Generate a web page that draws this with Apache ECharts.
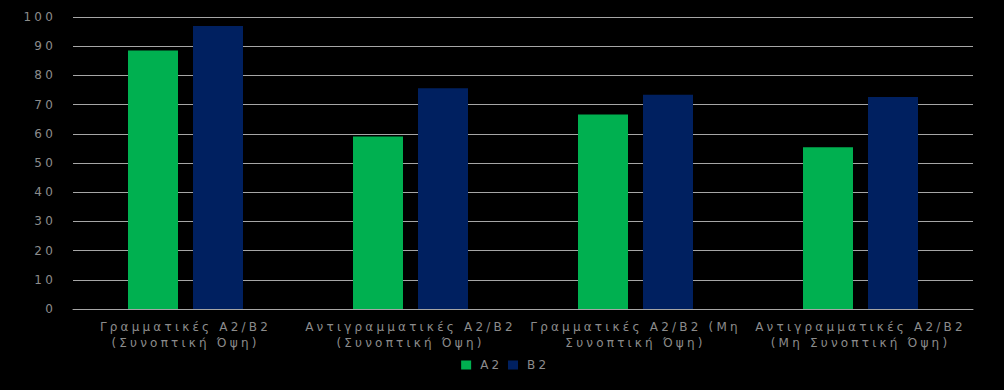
<!DOCTYPE html>
<html><head><meta charset="utf-8">
<script src="https://cdn.jsdelivr.net/npm/echarts@6/dist/echarts.min.js"></script>
<style>html,body{margin:0;padding:0;background:#000;}#c{width:1004px;height:390px;}
#c text{letter-spacing:3.2px;}</style>
</head><body><div id="c"></div>
<script>
const categories = [
  "Γραμματικές A2/B2\n(Συνοπτική Όψη)",
  "Αντιγραμματικές A2/B2\n(Συνοπτική Όψη)",
  "Γραμματικές A2/B2 (Μη\nΣυνοπτική Όψη)",
  "Αντιγραμματικές A2/B2\n(Μη Συνοπτική Όψη)"
];
const seriesNames = ["A2", "B2"];
const valuesA2 = [88.5, 59.1, 66.6, 55.4];
const valuesB2 = [96.9, 75.6, 73.4, 72.6];
const colors = ["#00b050", "#002060"];

const chart = echarts.init(document.getElementById('c'), null, {renderer: 'svg'});
chart.setOption({
  backgroundColor: '#000',
  animation: false,
  textStyle: {fontFamily: 'DejaVu Sans'},
  legend: {
    bottom: 14, left: 'center', itemWidth: 10, itemHeight: 9, itemGap: 12,
    icon: 'rect',
    textStyle: {color: '#8c8c8c', fontSize: 12, padding: [0, 0, 0, 4]},
    data: seriesNames
  },
  grid: {left: 73, right: 31, top: 17, bottom: 81},
  xAxis: {
    type: 'category', data: categories,
    axisLine: {lineStyle: {color: '#a6a6a6', width: 1}},
    axisTick: {show: false},
    axisLabel: {color: '#8c8c8c', fontSize: 12, lineHeight: 16, interval: 0, margin: 10}
  },
  yAxis: {
    type: 'value', min: 0, max: 100, interval: 10,
    axisLine: {show: false}, axisTick: {show: false},
    axisLabel: {color: '#8c8c8c', fontSize: 12, margin: 17},
    splitLine: {lineStyle: {color: '#a6a6a6', width: 1}}
  },
  series: [
    {name: seriesNames[0], type: 'bar', data: valuesA2, barWidth: 50, barGap: '30%', itemStyle: {color: colors[0]}},
    {name: seriesNames[1], type: 'bar', data: valuesB2, barWidth: 50, itemStyle: {color: colors[1]}}
  ]
});
</script></body></html>
